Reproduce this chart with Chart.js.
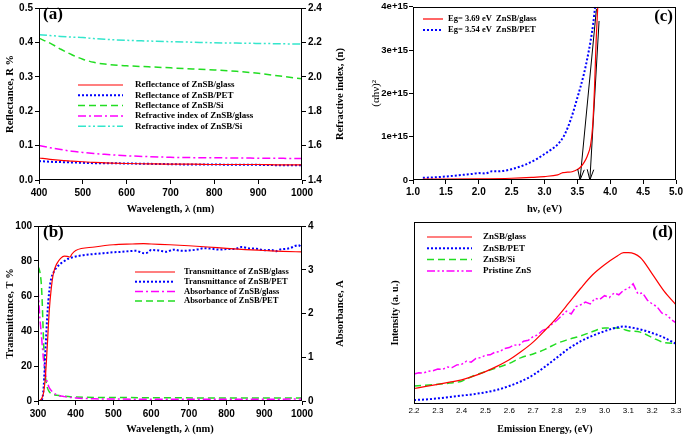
<!DOCTYPE html>
<html><head><meta charset="utf-8">
<script src="https://cdn.jsdelivr.net/npm/chart.js@4.4.1/dist/chart.umd.min.js"></script>
<style>
html,body{margin:0;padding:0;background:#fff;width:685px;height:438px;overflow:hidden;}
canvas{position:absolute;}
</style></head><body>
<canvas id="ca" width="350" height="218" style="left:0;top:0"></canvas>
<canvas id="cb" width="350" height="220" style="left:0;top:218px"></canvas>
<canvas id="cc" width="315" height="218" style="left:370px;top:0"></canvas>
<canvas id="cd" width="315" height="220" style="left:370px;top:218px"></canvas>
<script>
// ---------- Panel (a): reflectance & refractive index ----------
const waveA = [400,425,450,475,500,525,550,600,650,700,750,800,850,900,950,1000];
const R_glass = [0.064,0.060,0.057,0.055,0.053,0.051,0.050,0.048,0.047,0.046,0.046,0.045,0.045,0.045,0.044,0.044];
const R_PET   = [0.055,0.053,0.052,0.051,0.050,0.049,0.049,0.048,0.047,0.046,0.045,0.045,0.044,0.044,0.043,0.043];
const R_Si    = [0.412,0.398,0.380,0.364,0.351,0.342,0.337,0.332,0.329,0.326,0.323,0.320,0.316,0.310,0.302,0.294];
const n_glass = [1.600,1.588,1.577,1.567,1.560,1.554,1.549,1.541,1.536,1.532,1.530,1.529,1.528,1.527,1.526,1.525];
const n_Si    = [2.245,2.240,2.235,2.231,2.228,2.222,2.218,2.212,2.208,2.204,2.201,2.198,2.196,2.194,2.192,2.190];
const labelsA = ['Reflectance of ZnSB/glass','Reflectance of ZnSB/PET','Reflectance of ZnSB/Si','Refractive index of ZnSB/glass','Refractive index of ZnSB/Si'];

// ---------- Panel (b): transmittance & absorbance ----------
const waveTglass = [300,305,310,315,320,325,330,335,340,345,350,360,370,380,385,390,400,450,500,550,580,600,650,700,750,800,850,900,950,1000];
const T_glass    = [0,0.3,1.5,5,15,33,52,64,72,76,78.5,81.5,82.8,82.5,82.3,84,86,88,89.3,89.7,89.9,89.7,89.3,88.7,88,87.2,86.5,86,85.5,85.2];
const waveTPET = [300,305,310,315,320,325,330,335,340,345,350,360,370,380,390,400,420,440,460,480,500,520,540,560,580,590,600,620,640,660,680,700,720,740,760,780,800,820,840,860,880,900,920,930,940,960,970,980,990,1000];
const T_PET    = [0,0,0.5,8,30,50,63,70,73,75,76.5,78.5,80,81.3,82,82.6,83.3,83.8,84.2,84.6,85,85.2,85.6,85.8,84.5,84.8,86.3,86,85.3,86.5,85.8,86,86.5,87.3,87,86.5,86.8,86.8,88,87.2,87,86.2,86.3,85.5,86.5,87,87.5,88.5,89,87.8];
const waveAglass = [300,302,305,308,311,314,317,320,325,330,340,350,370,400,450,500,600,700,800,900,1000];
const A_glass    = [2.55,2.3,1.9,1.6,1.3,1.0,0.78,0.6,0.42,0.3,0.2,0.14,0.1,0.07,0.05,0.045,0.04,0.04,0.04,0.04,0.045];
const waveAPET = [300,303,306,309,311,313,315,317,319,321,325,330,340,350,400,500,600,800,1000];
const A_PET    = [3.07,3.02,2.9,2.65,2.3,1.8,1.3,0.9,0.62,0.47,0.3,0.21,0.15,0.13,0.09,0.08,0.075,0.07,0.07];
const labelsB = ['Transmittance of ZnSB/glass','Transmittance of ZnSB/PET','Absorbance of ZnSB/glass','Absorbance of ZnSB/PET'];

// ---------- Panel (c): Tauc plot, (alpha h nu)^2 in units of 1e15 ----------
const hvGlass  = [1.15,1.5,2.0,2.5,2.8,3.0,3.2,3.28,3.35,3.42,3.5,3.55,3.6,3.65,3.7,3.73,3.76,3.785,3.81];
const ahvGlass = [0.02,0.02,0.025,0.04,0.06,0.08,0.12,0.17,0.18,0.19,0.24,0.3,0.4,0.55,0.8,1.2,2.1,3.2,4.0];
const hvPET  = [1.15,1.3,1.5,1.7,1.9,2.0,2.1,2.2,2.3,2.5,2.7,2.9,3.0,3.1,3.2,3.3,3.4,3.5,3.6,3.65,3.7,3.74,3.77];
const ahvPET = [0.05,0.06,0.08,0.11,0.14,0.16,0.15,0.2,0.2,0.25,0.35,0.5,0.6,0.7,0.82,1.03,1.4,1.9,2.45,2.8,3.2,3.6,4.0];
const arrowTopHv  = [3.79, 3.83];
const arrowTopVal = [3.95, 3.67];
const arrowEg     = [3.54, 3.69];
const labelsC = ['Eg= 3.69 eV  ZnSB/glass','Eg= 3.54 eV  ZnSB/PET'];

// ---------- Panel (d): photoluminescence ----------
const eD = [2.2,2.25,2.3,2.35,2.4,2.45,2.5,2.55,2.6,2.65,2.7,2.75,2.8,2.85,2.9,2.95,3.0,3.05,3.08,3.1,3.15,3.2,3.25,3.3];
const PL_glass = [8.5,9.7,10.8,12,13.3,15.3,17.8,20.8,24.3,28.8,34,40.5,47.5,55.5,63.6,71,76.5,81,83.2,83.2,80.5,71.5,62,54.5];
const PL_PET   = [2.2,2.5,3.1,3.8,4.6,5.4,6.4,7.8,9.9,12.5,15.9,20.5,25.5,30.5,34.5,37.5,40,42,42.6,42.3,41,39,36.5,33];
const PL_Si    = [9.9,10.3,10.8,11.5,12.5,15.5,17.8,20,22.3,25.5,27.5,30,33.3,35.5,37.4,39.8,41.8,41.8,41,40.3,39.5,36.5,33.8,33.3];
const eM = [2.20,2.22,2.24,2.26,2.28,2.30,2.32,2.34,2.36,2.38,2.40,2.42,2.44,2.46,2.48,2.50,2.52,2.54,2.56,2.58,2.60,2.62,2.64,2.66,2.68,2.70,2.72,2.74,2.76,2.78,2.80,2.82,2.84,2.86,2.88,2.90,2.92,2.94,2.96,2.98,3.00,3.02,3.04,3.06,3.08,3.10,3.12,3.14,3.16,3.18,3.20,3.22,3.24,3.26,3.28,3.30];
const PL_ZnS = [16.5,17.2,17.0,18.0,18.3,19.2,19.0,20.3,20.0,21.5,21.8,23.5,23.0,25.0,25.5,26.8,27.0,28.5,28.8,30.5,31.0,32.5,32.2,34.5,35.0,37.0,38.0,40.5,41.5,44.0,46.0,48.5,51.0,49.5,53.5,54.5,56.0,55.0,58.0,57.5,59.5,58.5,61.0,60.0,62.5,63.5,66.0,60.5,61.0,57.0,55.0,53.5,50.0,49.0,46.5,44.5];
const labelsD = ['ZnSB/glass','ZnSB/PET','ZnSB/Si','Pristine ZnS'];

// ---------- styles ----------
const SERIF = "'Liberation Serif','Times New Roman',serif";
const SANS = "'Liberation Sans',Arial,sans-serif";
const RED='#ff0000', BLUE='#0000ff', GREEN='#22dd22', MAG='#ff00ff', CYAN='#33e6cc';
const tickFont = {family:SANS, size:10, weight:'bold'};
const titleFont = {family:SERIF, size:10.5, weight:'bold'};

function pts(xs, ys){ return xs.map((x,i)=>({x:x, y:ys[i]})); }
function line(label, xs, ys, color, dash, width, extra){
  return Object.assign({label:label, data:pts(xs,ys), borderColor:color, backgroundColor:color,
    borderDash:dash, borderWidth:width, pointRadius:0, fill:false, tension:0, cubicInterpolationMode:'monotone'}, extra||{});
}
function axis(o){
  return {
    type:'linear', position:o.pos, min:o.min, max:o.max,
    afterFit: s => { if(o.w!=null) s.width=o.w; if(o.h!=null) s.height=o.h; },
    grid:{display:o.noTicks?false:true, drawOnChartArea:false, drawTicks:o.tl!==0, tickLength:o.tl==null?4:o.tl, color:'#000', lineWidth:1},
    border:{display:false},
    ticks:{display:!o.noTicks, stepSize:o.step, color:'#000', font:o.tf||tickFont, padding:o.pad==null?2:o.pad,
      maxRotation:0, autoSkip:false, callback:o.cb||(v=>v.toFixed(o.dec||0))},
    title:o.title?{display:true, text:o.title, color:'#000', font:o.ttf||titleFont, padding:o.tpad||{top:4,bottom:2}}:{display:false}
  };
}

const decor = {
  id:'decor',
  afterDatasetsDraw(chart, args, o){
    const ctx=chart.ctx, a=chart.chartArea;
    ctx.save();
    ctx.strokeStyle='#000'; ctx.lineWidth=1; ctx.setLineDash([]);
    ctx.strokeRect(Math.round(a.left)+0.5, Math.round(a.top)+0.5, Math.round(a.right-a.left)-1, Math.round(a.bottom-a.top)-1);
    if(o.label){
      ctx.font='bold 17px '+SERIF; ctx.fillStyle='#000'; ctx.textAlign=o.label.align; ctx.textBaseline='middle';
      ctx.fillText(o.label.text, o.label.x, o.label.y);
    }
    if(o.legend){
      const L=o.legend;
      ctx.font=L.font; ctx.textBaseline='middle'; ctx.textAlign='left';
      L.items.forEach((idx,i)=>{
        const ds=chart.data.datasets[idx]; const y=L.y0+i*L.dy;
        ctx.save(); ctx.strokeStyle=ds.borderColor; ctx.lineWidth=ds.borderWidth; ctx.setLineDash(ds.borderDash||[]);
        ctx.beginPath(); ctx.moveTo(L.x1,y); ctx.lineTo(L.x2,y); ctx.stroke(); ctx.restore();
        ctx.fillStyle='#000'; ctx.fillText(ds.label, L.tx, y);
      });
    }
    (o.titles||[]).forEach(t=>{
      ctx.save(); ctx.translate(t.x, t.y!=null?t.y:(a.top+a.bottom)/2); ctx.rotate(t.rot||0);
      ctx.font=t.font; ctx.fillStyle='#000'; ctx.textAlign='center'; ctx.textBaseline='middle';
      ctx.fillText(t.text,0,0); ctx.restore();
    });
    ctx.restore();
  }
};
const arrowHeads = {
  id:'arrowHeads',
  afterDatasetsDraw(chart){
    const ctx=chart.ctx;
    chart.data.datasets.forEach((ds,i)=>{
      if(!ds.arrowHead) return;
      const p=chart.getDatasetMeta(i).data; if(p.length<2) return;
      const p1=p[p.length-2], p2=p[p.length-1];
      const ang=Math.atan2(p2.y-p1.y, p2.x-p1.x), len=11, sp=0.3;
      ctx.save(); ctx.strokeStyle=ds.borderColor; ctx.lineWidth=ds.borderWidth; ctx.setLineDash([]);
      ctx.beginPath();
      ctx.moveTo(p2.x-len*Math.cos(ang-sp), p2.y-len*Math.sin(ang-sp));
      ctx.lineTo(p2.x,p2.y);
      ctx.lineTo(p2.x-len*Math.cos(ang+sp), p2.y-len*Math.sin(ang+sp));
      ctx.stroke(); ctx.restore();
    });
  }
};
const basePlugins = {legend:{display:false}, tooltip:{enabled:false}};
const DOT=[2,2], DASH=[7,4], DASHDOT=[8,3,2,3], DASHDOTDOT=[8,2.5,2,2.5,2,2.5];

// ---------- (a) ----------
new Chart(document.getElementById('ca'), {
  type:'line',
  data:{datasets:[
    line(labelsA[0], waveA, R_glass, RED, [], 1.2, {yAxisID:'y'}),
    line(labelsA[1], waveA, R_PET, BLUE, DOT, 2, {yAxisID:'y'}),
    line(labelsA[2], waveA, R_Si, GREEN, DASH, 1.5, {yAxisID:'y'}),
    line(labelsA[3], waveA, n_glass, MAG, DASHDOT, 1.5, {yAxisID:'y1'}),
    line(labelsA[4], waveA, n_Si, CYAN, DASHDOTDOT, 1.5, {yAxisID:'y1'})
  ]},
  options:{responsive:false, animation:false, layout:{padding:{top:5,left:0,right:0,bottom:0}},
    scales:{
      x:axis({pos:'bottom', min:400, max:1000, step:100, h:38, pad:3, title:'Wavelength, \u03bb (nm)'}),
      y:axis({pos:'left', min:0, max:0.5, step:0.1, dec:1, w:39, pad:2, title:'Reflectance, R %'}),
      y1:axis({pos:'right', min:1.4, max:2.4, step:0.2, dec:1, w:48, pad:2})
    },
    plugins:Object.assign({}, basePlugins, {decor:{
      label:{text:'(a)', x:43, y:15, align:'left'},
      legend:{font:'bold 9px '+SERIF, x1:78, x2:123, tx:135, y0:85, dy:10.3, items:[0,1,2,3,4]},
      titles:[{text:'Refractive index, (n)', x:340, rot:-Math.PI/2, font:'bold 10.5px '+SERIF}]
    }})
  },
  plugins:[decor]
});

// ---------- (b) ----------
new Chart(document.getElementById('cb'), {
  type:'line',
  data:{datasets:[
    line(labelsB[0], waveTglass, T_glass, RED, [], 1.2, {yAxisID:'y'}),
    line(labelsB[1], waveTPET, T_PET, BLUE, DOT, 2, {yAxisID:'y'}),
    line(labelsB[2], waveAglass, A_glass, MAG, DASHDOT, 1.5, {yAxisID:'y1'}),
    line(labelsB[3], waveAPET, A_PET, GREEN, DASH, 1.5, {yAxisID:'y1'})
  ]},
  options:{responsive:false, animation:false, layout:{padding:{top:3,left:0,right:0,bottom:0}},
    scales:{
      x:axis({pos:'bottom', min:300, max:1000, step:100, h:37, pad:3, title:'Wavelength, \u03bb (nm)'}),
      y:axis({pos:'left', min:0, max:100, step:20, w:38, pad:2, title:'Transmittance, T %'}),
      y1:axis({pos:'right', min:0, max:4, step:1, w:48, pad:2})
    },
    plugins:Object.assign({}, basePlugins, {decor:{
      label:{text:'(b)', x:43, y:15, align:'left'},
      legend:{font:'bold 8.5px '+SERIF, x1:135, x2:175, tx:184, y0:54, dy:9.7, items:[0,1,2,3]},
      titles:[{text:'Absorbance, A', x:340, rot:-Math.PI/2, font:'bold 10.5px '+SERIF}]
    }})
  },
  plugins:[decor]
});

// ---------- (c) ----------
const arrowSets = arrowEg.map((eg,k)=>line(null, [arrowTopHv[k], eg], [arrowTopVal[k], 0], '#000', [], 1, {arrowHead:true, cubicInterpolationMode:'default'}));
new Chart(document.getElementById('cc'), {
  type:'line',
  data:{datasets:[
    line(labelsC[0], hvGlass, ahvGlass, RED, [], 1.2),
    line(labelsC[1], hvPET, ahvPET, BLUE, DOT, 2)
  ].concat(arrowSets)},
  options:{responsive:false, animation:false, layout:{padding:{top:4,left:0,right:9,bottom:0}},
    scales:{
      x:axis({pos:'bottom', min:1, max:5, step:0.5, dec:1, h:38, pad:2, title:'h\u03bd, (eV)'}),
      y:axis({pos:'left', min:0, max:4, step:1, w:43, pad:1, tf:{family:SANS, size:9.5, weight:'bold'}, cb:v=>v===0?'0':v+'e+15',
        title:'(\u03b1h\u03bd)\u00b2', ttf:{family:SERIF, size:11, weight:'normal'}, tpad:{top:0,bottom:0}})
    },
    plugins:Object.assign({}, basePlugins, {decor:{
      label:{text:'(c)', x:303, y:17, align:'right'},
      legend:{font:'bold 8.5px '+SERIF, x1:53, x2:73, tx:78, y0:19, dy:11, items:[0,1]}
    }})
  },
  plugins:[decor, arrowHeads]
});

// ---------- (d) ----------
new Chart(document.getElementById('cd'), {
  type:'line',
  data:{datasets:[
    line(labelsD[0], eD, PL_glass, RED, [], 1.2),
    line(labelsD[1], eD, PL_PET, BLUE, DOT, 2),
    line(labelsD[2], eD, PL_Si, GREEN, DASH, 1.5),
    line(labelsD[3], eM, PL_ZnS, MAG, DASHDOTDOT, 1.5, {cubicInterpolationMode:'default'})
  ]},
  options:{responsive:false, animation:false, layout:{padding:{top:4,left:0,right:9,bottom:0}},
    scales:{
      x:axis({pos:'bottom', min:2.2, max:3.3, step:0.1, dec:1, h:34, tl:0, pad:2,
        tf:{family:SANS, size:8, weight:'normal'}, title:'Emission Energy, (eV)', ttf:{family:SERIF, size:10, weight:'bold'}, tpad:{top:0,bottom:3}}),
      y:axis({pos:'left', min:0, max:100, w:44, noTicks:true,
        title:'Intensity (a. u.)', ttf:{family:SERIF, size:10, weight:'bold'}, tpad:{top:19,bottom:0}})
    },
    plugins:Object.assign({}, basePlugins, {decor:{
      label:{text:'(d)', x:303, y:15, align:'right'},
      legend:{font:'bold 9px '+SERIF, x1:57, x2:102, tx:113, y0:19, dy:11.3, items:[0,1,2,3]}
    }})
  },
  plugins:[decor]
});
</script>
</body></html>
